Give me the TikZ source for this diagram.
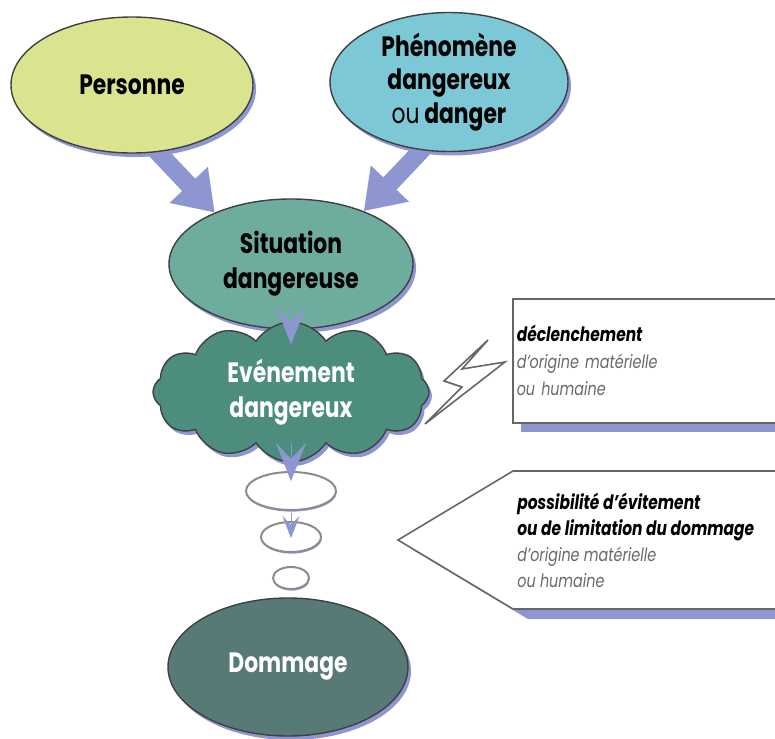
\documentclass[tikz,border=0pt]{standalone}
\usepackage{fontspec}
\setmainfont[FakeStretch=0.78]{Poppins}
\usetikzlibrary{arrows.meta,shapes.geometric,shapes.symbols,shadows,backgrounds}
\definecolor{lav}{RGB}{142,150,210}
\definecolor{persc}{RGB}{218,228,142}
\definecolor{phenc}{RGB}{124,200,214}
\definecolor{sitc}{RGB}{110,172,158}
\definecolor{evtc}{RGB}{77,141,125}
\definecolor{domc}{RGB}{88,122,118}
\definecolor{txtgray}{RGB}{105,105,105}
\newcommand\boldtxt{\bfseries\fontsize{9.9}{13}\selectfont}
\tikzset{
	bubble/.style={ellipse,draw=black!75,line width=0.7pt,inner sep=0pt,align=center,
		font=\bfseries\fontsize{14}{17.5}\selectfont,
		drop shadow={shadow xshift=1.5pt,shadow yshift=-2pt,fill=lav,opacity=1}},
	ring/.style={ellipse,draw=black!45,line width=1pt,inner sep=0pt,
		drop shadow={shadow xshift=0.3pt,shadow yshift=-0.8pt,fill=lav,opacity=1},fill=white},
	big/.style={lav,line width=9pt,-{Triangle[length=19pt,width=25pt]},shorten <=-10pt},
	chev/.style={lav,line width=0.1pt,-{Stealth[length=19pt,width=15pt,inset=8pt]}},
	smallchev/.style={lav,line width=0.1pt,-{Stealth[length=11pt,width=8.5pt,inset=4.5pt]}},
	infobox/.style={draw=black!60,line width=0.8pt,fill=white},
	boxtext/.style={align=left,inner sep=0pt,anchor=west,font=\itshape\fontsize{9.2}{13}\selectfont}
}
\begin{document}
\begin{tikzpicture}[x=0.5pt,y=-0.5pt]
	\clip (0,0) rectangle (775,738);
	\node[bubble,fill=persc,minimum width=121pt,minimum height=68pt] (pers) at (132,85) {Personne};
	\node[bubble,fill=phenc,minimum width=119pt,minimum height=66pt,font=\bfseries\fontsize{14}{16.8}\selectfont] (phen) at (449,82) {Phénomène\\dangereux\\{\mdseries ou} danger};
	\node[bubble,fill=sitc,minimum width=122pt,minimum height=65pt] (sit) at (291,264) {Situation\\dangereuse};
	\begin{scope}[on background layer]
		\draw[big] (pers.-69) -- (sit.146);
		\draw[big] (phen.-112) -- (sit.36);
	\end{scope}
	\node[bubble,cloud,cloud puffs=12,cloud puff arc=115,aspect=2,fill=evtc,text=white,minimum width=138pt,minimum height=70pt] (evt) at (291,392) {Evénement\\dangereux};
	\node[ring,minimum width=45pt,minimum height=19pt] (ev1) at (291,491) {};
	\node[ring,minimum width=30pt,minimum height=15pt] (ev2) at (291,537) {};
	\node[ring,minimum width=18pt,minimum height=11pt] (ev3) at (291,578) {};
	\node[bubble,fill=domc,text=white,minimum width=120pt,minimum height=69pt] (dom) at (288,667) {Dommage};
	\draw[chev] ([yshift=11.5pt]sit.south) -- ([yshift=-11.5pt]evt.north);
	\draw[chev] ([yshift=10pt]evt.south) -- ([yshift=-5pt]ev1.north);
	\draw[smallchev] ([yshift=4pt]ev2.north) -- ([yshift=-0.5pt]ev2.center);
	\draw[infobox,line join=miter] (488,340) -- (462,369) -- (505,362) -- (425,424) -- (462,387) -- (444,381) -- cycle;
	\node[infobox,anchor=north west,minimum width=139pt,minimum height=62pt,text width=135pt,inner xsep=2pt,align=left,
		font=\itshape\fontsize{9.2}{13.5}\selectfont,
		drop shadow={shadow xshift=4pt,shadow yshift=-4.5pt,fill=lav,opacity=1}] (decl) at (512,298)
		{{\boldtxt déclenchement}\\\textcolor{txtgray}{d'origine matérielle}\\\textcolor{txtgray}{ou humaine}};
	\draw[infobox,drop shadow={shadow xshift=7.5pt,shadow yshift=-5pt,fill=lav,opacity=1}]
		(398,540) -- (513,471) -- (790,471) -- (790,609) -- (513,609) -- cycle;
	\node[boxtext] (evit) at (517,540) {{\boldtxt possibilité d'évitement}\\{\boldtxt ou de limitation du dommage}\\\textcolor{txtgray}{d'origine matérielle}\\\textcolor{txtgray}{ou humaine}};
\end{tikzpicture}
\end{document}
